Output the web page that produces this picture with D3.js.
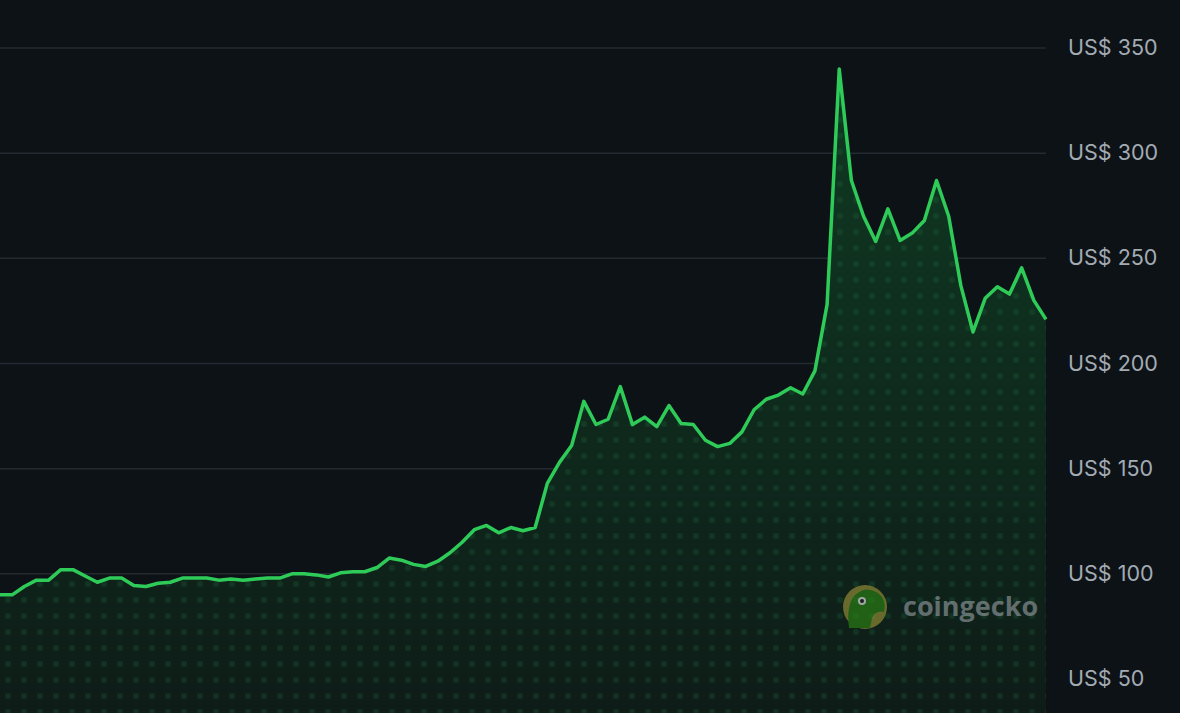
<!DOCTYPE html>
<html><head><meta charset="utf-8">
<script src="https://cdn.jsdelivr.net/npm/d3@7"></script>
<style>html,body{margin:0;background:#0d1217;}svg{display:block}</style>
</head><body>
<script>
const prices = [90,90,94,97,97,102,102,99,96,98,98,94.5,94,95.5,96,98,98,98,97,97.5,97,97.5,98,98,100,100,99.5,98.5,100.5,101,101,103,107.5,106.5,104.5,103.5,106,110,115,121,123,119.5,122,120.5,122,143,153,161,182,171,173.5,189,171,174.5,170,180,171.5,171,163.5,160.5,162,167.5,178,183,185,188.5,185.5,196.5,228,340,287,270,258,273.5,258.5,262,268,287,270,237,215,231,236.5,233,245.5,230,221];
const tickValues = [50,100,150,200,250,300,350];
const tickLabel = v => "US$ " + v;

const W=1180,H=713, plotR=1046;
const svg=d3.select("body").append("svg").attr("width",W).attr("height",H);
svg.append("rect").attr("width",W).attr("height",H).attr("fill","#0d1217");
const x=d3.scaleLinear().domain([0,prices.length-1]).range([0,plotR]);
const y=d3.scaleLinear().domain([50,350]).range([679,48]);

const defs=svg.append("defs");
const g=defs.append("linearGradient").attr("id","fg").attr("x1",0).attr("x2",0).attr("y1",0).attr("y2",1);
g.append("stop").attr("offset","0%").attr("stop-color","#0f3a22");
g.append("stop").attr("offset","100%").attr("stop-color","#0e1c18");
const pat=defs.append("pattern").attr("id","dots").attr("width",16).attr("height",16).attr("patternUnits","userSpaceOnUse");
pat.append("circle").attr("cx",8).attr("cy",8).attr("r",3).attr("fill","#1f6b3a").attr("opacity",0.25);

svg.append("g").selectAll("line").data(tickValues).join("line")
  .attr("x1",0).attr("x2",plotR).attr("y1",d=>y(d)).attr("y2",d=>y(d))
  .attr("stroke","#232a31").attr("stroke-width",1.5);

const area=d3.area().x((d,i)=>x(i)).y0(H).y1(d=>y(d));
svg.append("path").datum(prices).attr("d",area).attr("fill","url(#fg)");
svg.append("path").datum(prices).attr("d",area).attr("fill","url(#dots)");
svg.append("path").datum(prices).attr("d",d3.line().x((d,i)=>x(i)).y(d=>y(d)))
  .attr("fill","none").attr("stroke","#2fcb59").attr("stroke-width",3.5).attr("stroke-linejoin","round");

svg.append("g").selectAll("text").data(tickValues).join("text")
  .attr("x",1068).attr("y",d=>y(d)+7).text(tickLabel)
  .attr("fill","#a3abb3").attr("font-family","Inter, 'Noto Sans', sans-serif").attr("font-size",21.5);

// watermark
const wm=svg.append("g").attr("opacity",0.6);
wm.append("circle").attr("cx",865).attr("cy",607).attr("r",22).attr("fill","#a59c3a");
wm.append("path").attr("d","M849,628 Q846,605 855,595 Q866,585 878,593 Q887,600 884,612 Q876,610 872,618 L870,628 Z").attr("fill","#2e8c14");
wm.append("circle").attr("cx",862).attr("cy",601).attr("r",4).attr("fill","#fff");
wm.append("circle").attr("cx",862).attr("cy",601).attr("r",2).attr("fill","#222");
wm.append("text").attr("x",903).attr("y",616).text("coingecko").attr("fill","#9aa0a6")
  .attr("font-family","'Open Sans', 'Noto Sans', sans-serif").attr("font-weight",700).attr("font-size",27);
</script>
</body></html>
